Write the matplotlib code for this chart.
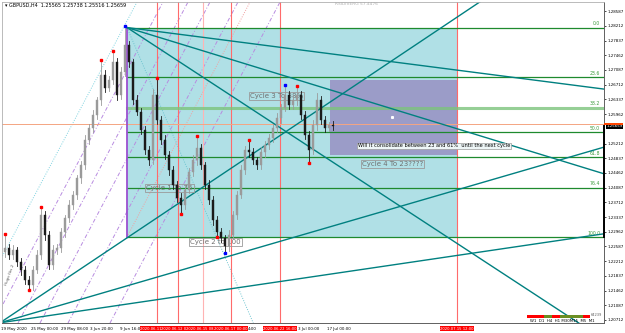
import numpy as np
import matplotlib.pyplot as plt
from matplotlib.patches import Rectangle

# GBPUSD H4 candles (closes, wick sizes in pips)
closes = [1.2255, 1.2237, 1.2250, 1.2219, 1.2199, 1.2173, 1.2160, 1.2199, 1.2237, 1.2339,
          1.2288, 1.2211, 1.2250, 1.2255, 1.2296, 1.2331, 1.2364, 1.2390, 1.2433, 1.2466,
          1.2530, 1.2561, 1.2594, 1.2632, 1.2696, 1.2663, 1.2683, 1.2729, 1.2645, 1.2704,
          1.2772, 1.2729, 1.2632, 1.2602, 1.2556, 1.2505, 1.2479, 1.2645, 1.2581, 1.2530,
          1.2492, 1.2454, 1.2415, 1.2382, 1.2364, 1.2403, 1.2449, 1.2479, 1.2510, 1.2466,
          1.2415, 1.2377, 1.2326, 1.2296, 1.2280, 1.2260, 1.2288, 1.2339, 1.2390, 1.2454,
          1.2505, 1.2500, 1.2479, 1.2466, 1.2500, 1.2517, 1.2535, 1.2561, 1.2586, 1.2612,
          1.2645, 1.2619, 1.2632, 1.2645, 1.2594, 1.2543, 1.2505, 1.2568, 1.2632, 1.2581,
          1.2561, 1.2568, 1.2566]
first_open = 1.2245
wick_up = [33, 10, 12, 8, 10, 9, 11, 10, 12, 18, 10, 9, 12, 10, 11, 8, 12, 10, 9, 11,
           12, 10, 13, 9, 36, 12, 10, 26, 11, 12, 45, 10, 9, 12, 10, 11, 9, 14, 41, 10,
           12, 9, 11, 10, 12, 10, 11, 13, 28, 10, 9, 12, 10, 11, 10, 9, 12, 10, 11, 13,
           10, 23, 11, 9, 12, 10, 11, 10, 12, 9, 23, 10, 12, 20, 9, 11, 10, 12, 18, 10,
           11, 9, 10]
wick_dn = [12, 10, 11, 9, 12, 10, 10, 13, 9, 11, 12, 10, 9, 11, 10, 12, 9, 11, 10, 12,
           10, 9, 11, 10, 12, 10, 9, 11, 13, 10, 11, 12, 10, 9, 11, 10, 12, 10, 11, 9,
           10, 12, 11, 10, 20, 11, 9, 10, 12, 11, 10, 9, 12, 11, 10, 15, 12, 10, 11, 9,
           10, 12, 11, 10, 9, 12, 10, 11, 10, 12, 9, 11, 10, 12, 10, 11, 31, 10, 12, 11,
           10, 9, 11]
pip = 0.0001

# zigzag swing markers
red_marks = [0, 6, 9, 24, 27, 38, 44, 48, 53, 61, 73, 76]
red_sides = ['h', 'l', 'h', 'h', 'h', 'h', 'l', 'h', 'l', 'h', 'h', 'l']
blue_marks = [30, 55, 70]
blue_sides = ['h', 'l', 'h']

# fibonacci retracement
fib_high = 1.2817
fib_low = 1.2283
fib_start = 30.5
fib_box_end = 113
fib_ratios = [0.0, 23.6, 38.2, 50.0, 61.8, 76.4, 100.0]

# gann fans
fan_top_origin = (30.5, 1.2817)
fan_top_end_x = [149.75, 149.75, 144.25]
fan_top_end_y = [1.2660, 1.2444, 1.2058]
fan_bot_origin = (-1.25, 1.2064)
fan_bot_end_x = [119.4, 149.75, 149.75]
fan_bot_end_y = [1.2887, 1.2512, 1.2291]

# gann grid diagonals (bar at bottom edge / bar at top edge)
grid_bottom_x = [-9.5, -3, 3.25, 8.75, 15.75, 26.25]
grid_top_x = [33, 39.5, 45.75, 51.25, 58.25, 68.75]

cycle_lines = [38, 43.25, 49.5, 56.5, 68.75, 113]
cycle_dates = ['2020.06.11 04:00', '2020.06.12 00:00', '2020.06.15 08:00',
               '2020.06.17 00:00', '2020.06.22 16:00', '2020.07.15 12:00']

target_x = (81.25, 113)
target_y = (1.2492, 1.2683)

bid = 1.25659
ask_line = 1.2571

date_x = [-1, 6.5, 14, 21.25, 28.75, 60.75, 73.25, 80.5]
date_labels = ['19 May 2020', '25 May 00:00', '29 May 08:00', '3 Jun 20:00',
               '9 Jun 16:00', '4:00', '3 Jul 00:00', '17 Jul 00:00']
price_ticks = [1.20712 + 0.00375 * k for k in range(22)]

y_lo, y_hi = 1.20635, 1.28821

fig = plt.figure(figsize=(6.25, 3.33), dpi=100)
ax = fig.add_axes([2 / 625, 10 / 333, 602 / 625, 321 / 333])
ax.set_xlim(-0.75, 149.75)
ax.set_ylim(y_lo, y_hi)

# fib box + target box
ax.add_patch(Rectangle((fib_start, fib_low), fib_box_end - fib_start, fib_high - fib_low,
                       facecolor='#b0e0e6', edgecolor='none', zorder=0.5))
ax.add_patch(Rectangle((target_x[0], target_y[0]), target_x[1] - target_x[0],
                       target_y[1] - target_y[0], facecolor='#9b9cc8', edgecolor='none', zorder=0.6))
ax.plot([96.75], [1.2589], 's', color='white', ms=1.2, zorder=0.7)

# gann grid
for i, (b0, b1) in enumerate(zip(grid_bottom_x, grid_top_x)):
    if i == 0:
        ax.plot([b0, b1], [y_lo, y_hi], color='#7fd3e0', lw=0.7, ls=(0, (1, 1.5)), zorder=1)
    else:
        ax.plot([b0, b1], [y_lo, y_hi], color='#b88be0', lw=0.7, ls=(0, (4, 2, 1, 2)), zorder=1)
ax.plot([30.5, 61.25], [fib_low, y_hi], color='#f0a0a0', lw=0.7, ls=(0, (1, 1.5)), zorder=1)
ax.plot([30.5, 62.5], [fib_high, 1.2053], color='#6fc5d0', lw=0.7, ls=(0, (1, 1.5)), zorder=1)

# cycle verticals
for i, b in enumerate(cycle_lines):
    ax.axvline(b, color='#ffb3b3' if i == 2 else '#ff6b6b', lw=0.8, zorder=1)

ax.axhline(ask_line, color='#f4a582', lw=0.7, zorder=1)

# fib levels
for r in fib_ratios:
    lvl = fib_high - r / 100 * (fib_high - fib_low)
    if r == 38.2:
        ax.plot([fib_start, 149.75], [lvl, lvl], color='#7cc47c', lw=2.2, alpha=0.8, zorder=1.5)
    else:
        ax.plot([fib_start, 149.75], [lvl, lvl], color='#1e8a2e', lw=0.9, zorder=1.5)
    ax.text(148.8, lvl + 0.0003, '%.1f' % r, color='#3c9a3c', fontsize=3.3,
            ha='right', va='bottom', zorder=1.6)
ax.plot([fib_start, fib_start], [fib_low, fib_high], color='#9b4fd0', lw=1.3, zorder=1.6)

# gann fans
for ex, ey in zip(fan_top_end_x, fan_top_end_y):
    ax.plot([fan_top_origin[0], ex], [fan_top_origin[1], ey], color='#008080', lw=1.0, zorder=2)
for ex, ey in zip(fan_bot_end_x, fan_bot_end_y):
    ax.plot([fan_bot_origin[0], ex], [fan_bot_origin[1], ey], color='#008080', lw=1.0, zorder=2)

# notes
box = dict(boxstyle='square,pad=0.15', fc='none', ec='#9a9a9a', lw=0.6)
ax.text(35.25, 1.2408, 'Cycle 1 To 76', color='#707070', fontsize=5, va='center', bbox=box, zorder=2.5)
ax.text(46.25, 1.2270, 'Cycle 2 to 100', color='#707070', fontsize=5, va='center', bbox=box, zorder=2.5)
ax.text(61.25, 1.2642, 'Cycle 3 To 38%', color='#707070', fontsize=5, va='center', bbox=box, zorder=2.5)
ax.text(89.25, 1.2469, 'Cycle 4 To 23????', color='#707070', fontsize=5, va='center', bbox=box, zorder=2.5)
ax.text(88.25, 1.2515, 'Will it consolidate between 23 and 61%  until the next cycle', color='black',
        fontsize=3.6, va='center',
        bbox=dict(boxstyle='square,pad=0.15', fc='#eef6f7', ec='#9a9a9a', lw=0.5), zorder=2.5)

# candles
opens = [first_open] + closes[:-1]
for i, (o, c) in enumerate(zip(opens, closes)):
    hi = max(o, c) + wick_up[i] * pip
    lo = min(o, c) - wick_dn[i] * pip
    col = '#9a9a9a' if c >= o else '#1a1a1a'
    ax.plot([i, i], [lo, hi], color=col, lw=0.6, zorder=3)
    ax.add_patch(Rectangle((i - 0.25, min(o, c)), 0.5, max(abs(c - o), 0.00012),
                           facecolor=col, edgecolor=col, lw=0.3, zorder=3.1))

for marks, sides, col in [(red_marks, red_sides, 'red'), (blue_marks, blue_sides, 'blue')]:
    for i, s in zip(marks, sides):
        o, c = opens[i], closes[i]
        if s == 'h':
            y = max(o, c) + wick_up[i] * pip + 0.0003
        else:
            y = min(o, c) - wick_dn[i] * pip - 0.0003
        ax.plot([i], [y], 's', color=col, ms=1.8, zorder=4)

# axes styling
shown_ticks = [t for t in price_ticks if abs(t - bid) > 0.0012]
ax.yaxis.tick_right()
ax.set_yticks(shown_ticks)
ax.set_yticklabels(['%.5f' % t for t in shown_ticks], fontsize=2.9)
ax.tick_params(axis='y', length=1.5, width=0.5, pad=0.8)
ax.set_xticks([])
for s in ['left', 'top']:
    ax.spines[s].set_color('#b0b0b0')
    ax.spines[s].set_linewidth(0.6)
for s in ['right', 'bottom']:
    ax.spines[s].set_color('#606060')
    ax.spines[s].set_linewidth(0.7)

trans = ax.get_xaxis_transform()
for x, lab in zip(date_x, date_labels):
    ax.text(x, -0.012, lab, transform=trans, fontsize=2.9, ha='left', va='top', clip_on=False)
for x, lab in zip(cycle_lines, cycle_dates):
    ax.text(x, -0.012, lab, transform=trans, fontsize=2.7, ha='center', va='top', color='white',
            clip_on=False, bbox=dict(boxstyle='square,pad=0.15', fc='#ff0000', ec='none'))

ytrans = ax.get_yaxis_transform()
ax.plot([1.0, 1.0], [fib_low, bid], transform=ytrans, color='black', lw=1.4, clip_on=False, zorder=5)
ax.text(1.004, bid, '%.5f' % bid, transform=ytrans, fontsize=2.9, color='white', va='center',
        ha='left', clip_on=False, bbox=dict(boxstyle='square,pad=0.2', fc='black', ec='none'), zorder=6)
ax.add_patch(Rectangle((1.0, ask_line - 0.0002), 0.032, 0.0004, transform=ytrans,
                       facecolor='#ff4500', edgecolor='none', clip_on=False, zorder=6))

fig.text(5 / 625, 1 - 3 / 333, '\u25be GBPUSD,H4  1.25565 1.25738 1.25516 1.25659',
         fontsize=3.5, va='top', ha='left')
fig.text(335 / 625, 1 - 2 / 333, 'RSIDIVERG 57.4476', fontsize=3.2, va='top', color='#b0b0b0')
ax.text(-0.2, 1.2160, 'Hugo fbs 2', fontsize=3, color='#606060', rotation=70, zorder=2)

# timeframe strip at bottom-right
seg_x = [527, 544, 552, 560, 583]
seg_w = [17, 8, 8, 23, 7]
seg_c = ['#ff0000', '#6b8e23', '#ff0000', '#6b8e23', '#ff0000']
for x, w, c in zip(seg_x, seg_w, seg_c):
    fig.add_artist(Rectangle((x / 625, 1 - 318 / 333), w / 625, 3 / 333,
                             facecolor=c, edgecolor='none', transform=fig.transFigure))
fig.text(530 / 625, 1 - 319 / 333, 'W1  D1  H4  H1 M30M15  M5  M1', fontsize=2.8, va='top')
fig.text(591 / 625, 1 - 315 / 333, '64239', fontsize=2.6, va='center', color='#606060')

fig.savefig('out.png', dpi=100)
